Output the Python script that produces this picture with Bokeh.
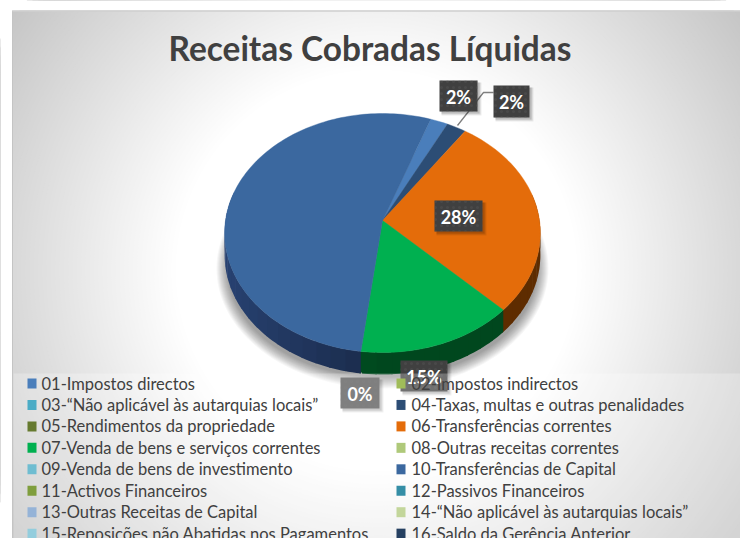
import numpy as np
from bokeh.plotting import figure
from bokeh.models import Range1d
from bokeh.core.properties import value
from bokeh.embed import file_html
from bokeh.resources import INLINE

title = "Receitas Cobradas Líquidas"
# legend, column by column as in the chart
categories = [
    "01-Impostos directos", "02-Impostos indirectos",
    "03-“Não aplicável às autarquias locais”", "04-Taxas, multas e outras penalidades",
    "05-Rendimentos da propriedade", "06-Transferências correntes",
    "07-Venda de bens e serviços correntes", "08-Outras receitas correntes",
    "09-Venda de bens de investimento", "10-Transferências de Capital",
    "11-Activos Financeiros", "12-Passivos Financeiros",
    "13-Outras Receitas de Capital", "14-“Não aplicável às autarquias locais”",
    "15-Reposições não Abatidas nos Pagamentos", "16-Saldo da Gerência Anterior",
]
shares = [2.0, 0, 0, 2.2, 0, 27.7, 14.6, 0, 0, 53.5, 0, 0, 0, 0, 0, 0]
colors = ["#4a7ebb", "#a0bc59", "#4bacc6", "#2c4d75", "#667a2f", "#e46c0a", "#00b050", "#afc97a",
          "#6fbdd1", "#3b689f", "#7f9e3d", "#358ea6", "#95b3d7", "#c3d69b", "#93cddd", "#254061"]
walls = ["#2a4a78", "#555566", "#335566", "#1d3554", "#444433", "#5e2c00", "#00471e", "#555566",
         "#335566", "#1a2b4a", "#444433", "#224455", "#556677", "#667766", "#556677", "#112233"]
label_text = ["2%", "2%", "28%", "15%", "0%"]
label_left = [439, 493, 434, 400, 340]
label_right = [477, 529, 482, 447, 379]
label_top = [80, 85, 200, 360, 377]
label_bottom = [111, 117, 231, 391, 408]
label_fill = ["#404040", "#404040", "#404040", "#404040", "#555555"]

W, H = 740, 538
p = figure(width=W, height=H, x_range=Range1d(0, W), y_range=Range1d(H, 0),
           toolbar_location=None, output_backend="svg", min_border=0, outline_line_color=None)
p.axis.visible = False
p.grid.visible = False
p.background_fill_color = "#ffffff"
p.border_fill_color = "#ffffff"


def grey(level):
    return "#%02x%02x%02x" % (level, level, level)


# radial gradient background: one ring per grey level
tt = np.linspace(0, 2 * np.pi, 180)
GRAD_R, GRAD_IN, GRAD_OUT = 446, 0.45, 198
p.quad(left=[12], right=[740], top=[10], bottom=[538], fill_color=grey(GRAD_OUT), line_color=None)
for level in range(GRAD_OUT + 1, 256):
    r = GRAD_R * (1 - (level - GRAD_OUT) / (255 - GRAD_OUT) * (1 - GRAD_IN))
    p.patch(376 + r * np.cos(tt), 270 + r * np.sin(tt), fill_color=grey(level), line_color=None)
p.quad(left=[0, 0], right=[12, 740], top=[0, 0], bottom=[538, 10], fill_color="#ffffff", line_color=None)
p.line([12, 12], [10, 538], line_color="#c4c4c4", line_width=1)
p.line([12, 740], [10.5, 10.5], line_color="#cfcfcf", line_width=1.5)

# pie geometry: tilted disc in perspective
CX, CY, A, B, K, DEPTH = 382, 220, 157, 118.2, 0.1046, 22
START = 19.7


def rim(deg):
    a = np.radians(deg)
    s = 1 + K * np.cos(a)
    return CX + A * np.sin(a) / s, CY - B * np.cos(a) / s


# soft shadow
for i in range(12):
    g = 12 - i
    p.patch(382 + (154 + g) * np.cos(tt), 268 + (108 + g) * np.sin(tt),
            fill_color="#000000", fill_alpha=0.035, line_color=None)

ang = START
arcs = []
for sh, col, wc in zip(shares, colors, walls):
    if sh <= 0:
        continue
    sweep = sh * 3.6
    arcs.append((ang, ang + sweep, col, wc))
    ang += sweep

# side wall
for a0, a1, col, wc in arcs:
    n = max(2, int((a1 - a0) / 5))
    eds = np.linspace(a0, a1, n + 1)
    base = np.array([int(wc[i:i + 2], 16) for i in (1, 3, 5)], float)
    for e0, e1 in zip(eds[:-1], eds[1:]):
        mid = np.radians((e0 + e1) / 2)
        if np.cos(mid) > 0.2:
            continue
        u = np.sin(mid)
        f = 1 - 0.55 * u if u < 0 else 1.0
        c = "#%02x%02x%02x" % tuple(np.clip(base * f, 0, 255).astype(int))
        ee = np.linspace(e0, e1 + 0.6, 5)
        xs, ys = rim(ee)
        p.patch(np.r_[xs, xs[::-1]], np.r_[ys, ys[::-1] + DEPTH], fill_color=c, line_color=None)

# top face
for a0, a1, col, wc in arcs:
    eds = np.linspace(a0, a1, max(3, int((a1 - a0) / 1.5)))
    xs, ys = rim(eds)
    p.patch(np.r_[CX, xs], np.r_[CY, ys], fill_color=col, line_color=col, line_width=0.4)

# leader lines
p.line([457, 483, 493], [125, 92, 92], line_color="#7f7f7f", line_width=1.3)
p.line([361, 361], [372, 377], line_color="#a6a6a6", line_width=1)

# data label boxes
L, R, T, Bt = map(np.array, (label_left, label_right, label_top, label_bottom))
for d, al in ((4, 0.07), (3, 0.09), (2, 0.12)):
    p.quad(left=L + 2, right=R + d, top=T + 2, bottom=Bt + d, fill_color="#000000",
           fill_alpha=al, line_color=None)
p.quad(left=L, right=R, top=T, bottom=Bt, fill_color=label_fill, line_color=None,
       hatch_pattern="dot", hatch_color="#5a5a5a", hatch_scale=6, hatch_alpha=0.35, hatch_weight=1)
p.text(x=(L + R) / 2, y=(T + Bt) / 2 + 0.5, text=label_text, text_color="#ffffff",
       text_font=value("Lato"), text_font_style="bold", text_font_size="18px",
       text_align="center", text_baseline="middle")

# legend band
p.quad(left=[13], right=[740], top=[373], bottom=[538], fill_color="#ffffff", fill_alpha=0.25, line_color=None)

ROW0, ROWSTEP = 383, 21.45
rows = np.arange(len(categories)) // 2
cols = np.arange(len(categories)) % 2
sw_x = 27 + cols * 369
ty = ROW0 + rows * ROWSTEP
p.quad(left=sw_x, right=sw_x + 9, top=ty - 5, bottom=ty + 5, fill_color=colors, line_color=None)
p.text(x=41 + cols * 370, y=ty, text=categories, text_color="#404040", text_font=value("Lato"),
       text_font_size="16.5px", text_baseline="middle", text_align="left")

p.text(x=[369.5], y=[47], text=[title], text_color="#404040", text_font=value("Lato"),
       text_font_style="bold", text_font_size="33.4px", text_align="center", text_baseline="middle")

open("out.html", "w").write(file_html(p, INLINE))
